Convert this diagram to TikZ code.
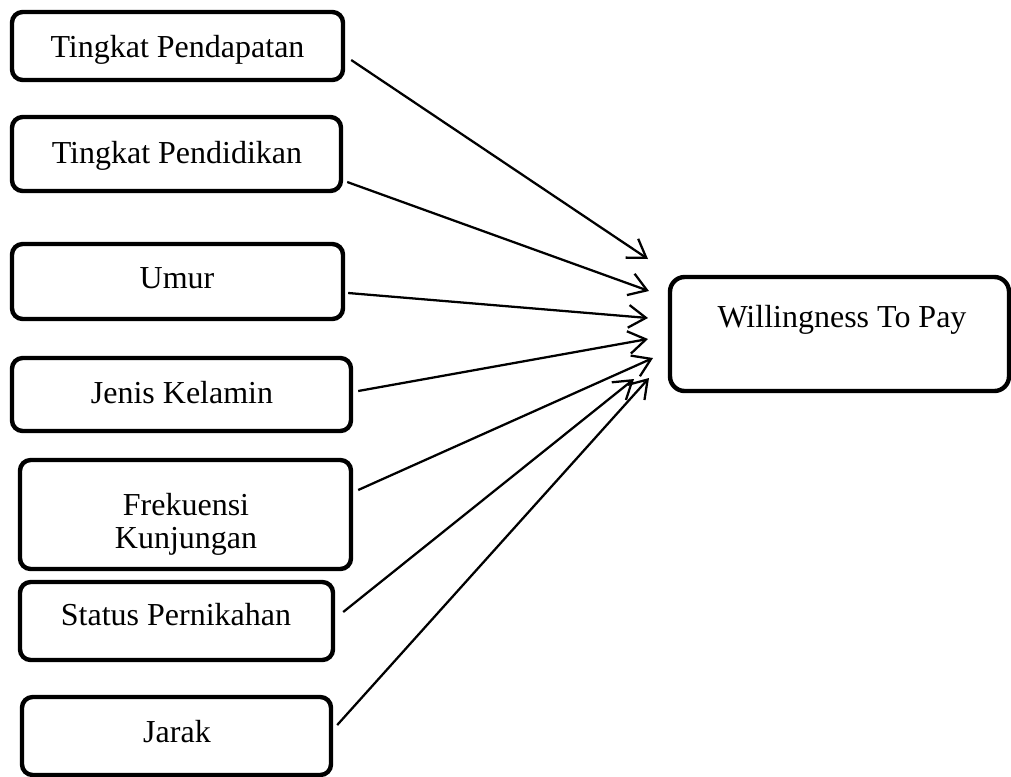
\documentclass[tikz,border=0pt]{standalone}
\usepackage{fontspec}
\setmainfont{Liberation Serif}
\usetikzlibrary{arrows.meta}
\begin{document}
\begin{tikzpicture}[x=0.75pt,y=-0.75pt,
  box/.style 2 args={draw=black, line width=3.3pt, rounded corners=8pt, fill=white,
    minimum width={#1*0.75pt}, minimum height={#2*0.75pt}, inner sep=0pt},
  txt/.style={anchor=base, inner sep=0pt, font=\fontsize{24}{26}\selectfont, align=center},
  conn/.style={draw=black, line width=1.7pt, -{Straight Barb[length=13pt,width=17pt]}}]
\useasboundingbox (0,0) rectangle (1011,776);
% boxes
\node[box={331}{68}] (b1) at (177.5,46) {};
\node[box={329}{74}] (b2) at (176.5,154) {};
\node[box={331}{75}] (b3) at (177.5,281.5) {};
\node[box={339}{73}] (b4) at (181.5,394.5) {};
\node[box={331}{109}] (b5) at (185.5,514.5) {};
\node[box={313}{78}] (b6) at (176.5,621) {};
\node[box={309}{78}] (b7) at (176.5,736) {};
\node[box={339}{114}, rounded corners=11pt] (w) at (839.5,334) {};
% texts
\node[txt] (l1) at (177.5,57) {Tingkat Pendapatan};
\node[txt] (l2) at (177,163) {Tingkat Pendidikan};
\node[txt] (l3) at (177,288) {Umur};
\node[txt] (l4) at (182,403) {Jenis Kelamin};
\node[txt] (l5a) at (186,515) {Frekuensi};
\node[txt] (l5b) at (186,548) {Kunjungan};
\node[txt] (l6) at (176,625) {Status Pernikahan};
\node[txt] (l7) at (177,742) {Jarak};
\node[txt] (lw) at (842,327) {Willingness To Pay};
% arrow tips
\coordinate (t1) at (648,259);
\coordinate (t2) at (649,291);
\coordinate (t3) at (648,318);
\coordinate (t4) at (648,339);
\coordinate (t5) at (653,358);
\coordinate (t6) at (634,379);
\coordinate (t7) at (649,378);
% connectors
\draw[conn] ([shift={(6,14)}]b1.east) -- (t1);
\draw[conn] ([shift={(4,28)}]b2.east) -- (t2);
\draw[conn] ([shift={(3,11.5)}]b3.east) -- (t3);
\draw[conn] ([shift={(5,-3.5)}]b4.east) -- (t4);
\draw[conn] ([shift={(5,-24.5)}]b5.east) -- (t5);
\draw[conn] ([shift={(8,-9)}]b6.east) -- (t6);
\draw[conn] ([shift={(4,-11)}]b7.east) -- (t7);
\end{tikzpicture}
\end{document}
